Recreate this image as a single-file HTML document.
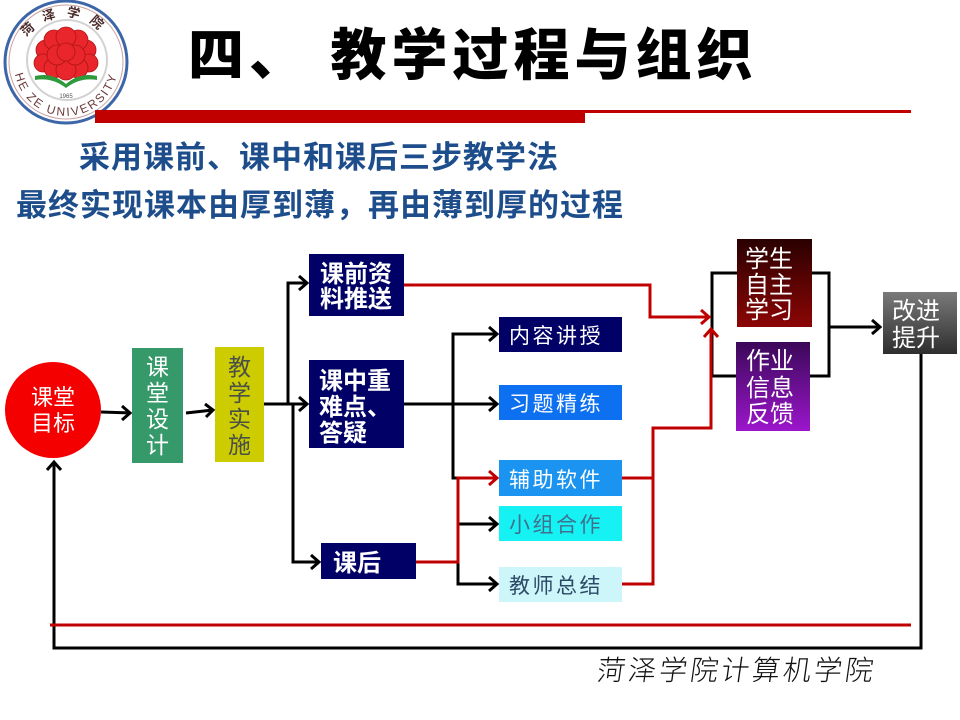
<!DOCTYPE html>
<html><head><meta charset="utf-8">
<style>
html,body{margin:0;padding:0;background:#fff;}
svg{display:block;}
text{font-family:"Liberation Sans","Noto Sans CJK SC",sans-serif;}
</style></head><body>
<svg width="960" height="720" viewBox="0 0 960 720" xmlns="http://www.w3.org/2000/svg">
<defs>
<linearGradient id="gRed" x1="0" y1="0" x2="0" y2="1"><stop offset="0" stop-color="#2a0000"/><stop offset="1" stop-color="#8c0606"/></linearGradient>
<linearGradient id="gPur" x1="0" y1="0" x2="0" y2="1"><stop offset="0" stop-color="#3a0858"/><stop offset="1" stop-color="#9c16cc"/></linearGradient>
<linearGradient id="gGray" x1="0" y1="0" x2="0" y2="1"><stop offset="0" stop-color="#7a7a7a"/><stop offset="1" stop-color="#2e2e2e"/></linearGradient>
<path id="arcTop" d="M19,64 A47,47 0 0 1 113,64" fill="none"/>
<path id="arcBot" d="M14,64 A52,52 0 0 0 118,64" fill="none"/>
</defs>
<rect width="960" height="720" fill="#fff"/>

<!-- Logo -->
<g>
<circle cx="66" cy="62" r="61" fill="#fff" stroke="#3d66a8" stroke-width="3"/>
<circle cx="66" cy="62" r="57" fill="none" stroke="#c9a2a2" stroke-width="1"/>
<circle cx="67" cy="60" r="40" fill="none" stroke="#d2d2d2" stroke-width="2"/>
<text font-size="13" fill="#4a2a2a" font-weight="bold"><textPath href="#arcTop" startOffset="50%" text-anchor="middle" letter-spacing="10">菏泽学院</textPath></text>
<text font-size="12" fill="#6a3a3a" font-family="Liberation Serif, serif"><textPath href="#arcBot" startOffset="50%" text-anchor="middle" letter-spacing="2">HE ZE UNIVERSITY</textPath></text>
<g fill="#e8262b" stroke="#b01515" stroke-width="0.8">
<circle cx="46" cy="50" r="10"/>
<circle cx="86" cy="50" r="10"/>
<circle cx="54" cy="40" r="10"/>
<circle cx="78" cy="40" r="10"/>
<circle cx="66" cy="37" r="10"/>
<circle cx="43" cy="63" r="9"/>
<circle cx="89" cy="63" r="9"/>
<circle cx="54" cy="68" r="10"/>
<circle cx="78" cy="68" r="10"/>
<circle cx="66" cy="70" r="10"/>
<circle cx="57" cy="55" r="10"/>
<circle cx="75" cy="55" r="10"/>
<circle cx="66" cy="52" r="9"/>
</g>
<path d="M35,76 Q52,72 66,84 Q80,72 97,76 L97,80 Q80,77 66,88 Q52,77 35,80 Z" fill="#2e9a3c"/>
<text x="66" y="98" font-size="6" fill="#555" text-anchor="middle">1965</text>
</g>

<!-- Title bar -->
<rect x="95" y="110" width="490" height="13" fill="#c00000"/>
<rect x="585" y="110" width="326" height="3" fill="#c00000"/>

<text x="188" y="75" font-size="56" font-weight="900" fill="#000" letter-spacing="5">四、 教学过程与组织</text>

<text x="79" y="168" font-size="31" font-weight="bold" fill="#1e4d8c" letter-spacing="1">采用课前、课中和课后三步教学法</text>
<text x="16" y="216" font-size="31" font-weight="bold" fill="#1e4d8c" letter-spacing="1">最终实现课本由厚到薄，再由薄到厚的过程</text>

<!-- Nodes -->
<circle cx="53" cy="410" r="48" fill="#f40000"/>
<text x="53" y="405" font-size="22" fill="#fff" text-anchor="middle">课堂</text>
<text x="53" y="431" font-size="22" fill="#fff" text-anchor="middle">目标</text>

<rect x="132" y="348" width="51" height="115" fill="#35996a"/>
<g font-size="23" fill="#fff" text-anchor="middle">
<text x="157.5" y="375">课</text><text x="157.5" y="401">堂</text><text x="157.5" y="427">设</text><text x="157.5" y="453">计</text>
</g>

<rect x="215" y="347" width="49" height="115" fill="#cccc00"/>
<g font-size="23" fill="#4a4f4a" text-anchor="middle">
<text x="239.5" y="375">教</text><text x="239.5" y="401">学</text><text x="239.5" y="427">实</text><text x="239.5" y="453">施</text>
</g>

<rect x="309" y="254" width="95" height="62" fill="#000066"/>
<g font-size="24" font-weight="bold" fill="#fff">
<text x="320" y="282">课前资</text><text x="320" y="307">料推送</text>
</g>

<rect x="309" y="360" width="95" height="88" fill="#000066"/>
<g font-size="24" font-weight="bold" fill="#fff">
<text x="319" y="389">课中重</text><text x="319" y="415">难点、</text><text x="319" y="441">答疑</text>
</g>

<rect x="321" y="543" width="95" height="36" fill="#000066"/>
<text x="333" y="571" font-size="24" font-weight="bold" fill="#fff">课后</text>

<rect x="499" y="317" width="123" height="35" fill="#000066"/>
<text x="509" y="343" font-size="21" fill="#fff" letter-spacing="2.5">内容讲授</text>

<rect x="499" y="385" width="123" height="35" fill="#0d70f0"/>
<text x="509" y="411" font-size="21" fill="#fff" letter-spacing="2.5">习题精练</text>

<rect x="499" y="460" width="123" height="36" fill="#1a94f0"/>
<text x="509" y="487" font-size="21" fill="#fff" letter-spacing="2.5">辅助软件</text>

<rect x="499" y="506" width="123" height="35" fill="#16f2f4"/>
<text x="509" y="532" font-size="21" fill="#40708e" letter-spacing="2.5">小组合作</text>

<rect x="499" y="567" width="123" height="35" fill="#cdf6fb"/>
<text x="509" y="593" font-size="21" fill="#2c4a66" letter-spacing="2.5">教师总结</text>

<rect x="737" y="239" width="75" height="88" fill="url(#gRed)"/>
<g font-size="24" fill="#fff">
<text x="745" y="267">学生</text><text x="745" y="293">自主</text><text x="745" y="318">学习</text>
</g>

<rect x="736" y="342" width="74" height="89" fill="url(#gPur)"/>
<g font-size="24" fill="#fff">
<text x="746" y="369">作业</text><text x="746" y="396">信息</text><text x="746" y="422">反馈</text>
</g>

<rect x="883" y="292" width="74" height="62" fill="url(#gGray)"/>
<g font-size="24" fill="#fff">
<text x="892" y="319">改进</text><text x="892" y="346">提升</text>
</g>

<!-- Black connectors -->
<g stroke="#000" stroke-width="3" fill="none" stroke-linejoin="miter">
<line x1="101" y1="412" x2="130" y2="413"/>
<polyline points="122,406 130,413 122,420"/>
<line x1="186" y1="413" x2="213" y2="410"/>
<polyline points="205,404 213,410 206,417"/>
<line x1="264" y1="404" x2="307" y2="404"/>
<polyline points="299,397 307,404 299,411"/>
<polyline points="288,404 288,283 307,283"/>
<polyline points="299,276 307,283 299,290"/>
<polyline points="293,404 293,562 319,562"/>
<polyline points="311,555 319,562 311,569"/>
<line x1="404" y1="404" x2="497" y2="404"/>
<polyline points="489,397 497,404 489,411"/>
<polyline points="497,334 453,334 453,478 459,478"/>
<polyline points="489,327 497,334 489,341"/>
<line x1="458" y1="524" x2="497" y2="524"/>
<polyline points="489,517 497,524 489,531"/>
<polyline points="458,562 458,584 497,584"/>
<polyline points="489,577 497,584 489,591"/>
<polyline points="737,273 712,273 712,376 736,376"/>
<polyline points="812,273 829,273 829,376 810,376"/>
<line x1="829" y1="327" x2="880" y2="327"/>
<polyline points="872,320 880,327 872,334"/>
<polyline points="921,354 921,648 54,648 54,462"/>
<polyline points="47,470 54,462 61,470"/>
</g>

<!-- Red connectors -->
<g stroke="#c00000" stroke-width="3" fill="none">
<polyline points="404,285 650,285 650,317 709,317"/>
<polyline points="701,310 709,317 701,324"/>
<polyline points="416,562 458,562 458,478 497,478"/>
<polyline points="489,471 497,478 489,485"/>
<polyline points="622,478 653,478"/>
<polyline points="622,584 653,584 653,428 711,428 711,329"/>
<polyline points="704,337 711,329 718,337"/>
<line x1="50" y1="625" x2="911" y2="625"/>
</g>

<!-- Footer -->
<g transform="translate(596,680) skewX(-8)">
<text x="0" y="0" font-size="28" fill="#111" letter-spacing="3" font-family="'Noto Serif CJK SC','Liberation Serif',serif" font-weight="300">菏泽学院计算机学院</text>
</g>
</svg>
</body></html>
